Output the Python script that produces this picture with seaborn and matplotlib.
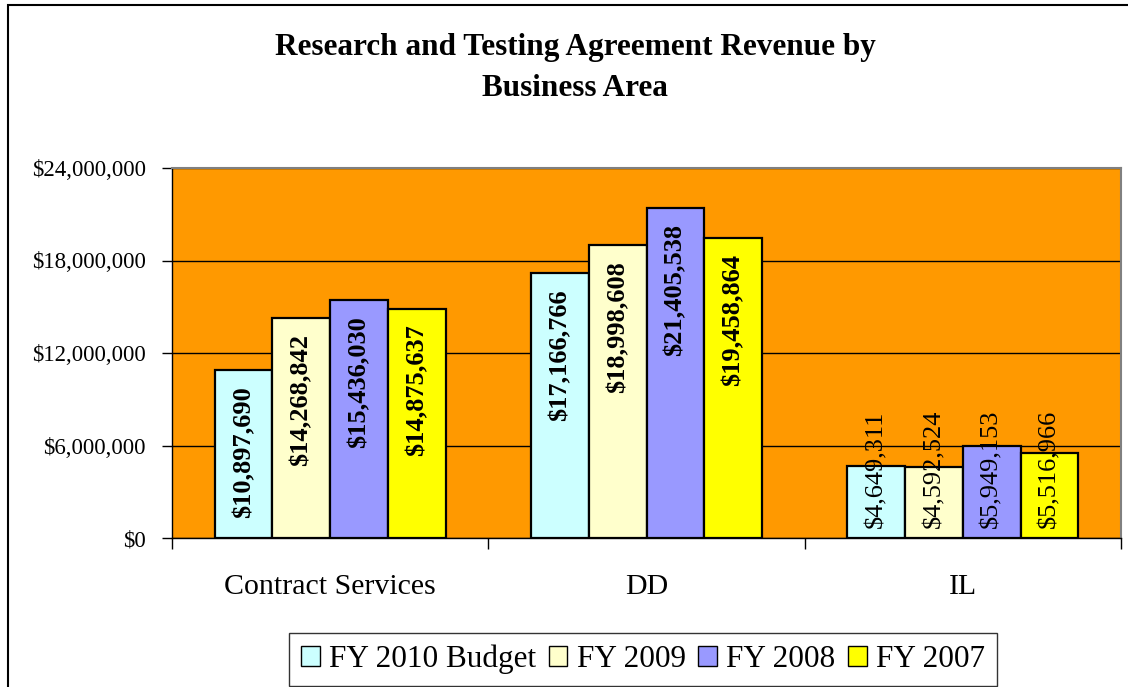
import matplotlib
matplotlib.use("Agg")
import matplotlib.pyplot as plt
import matplotlib.ticker as mticker
from matplotlib.patches import Rectangle
import seaborn as sns
import pandas as pd

areas = ["Contract Services", "DD", "IL"]
years = ["FY 2010 Budget", "FY 2009", "FY 2008", "FY 2007"]
fy2010_budget = [10897690, 17166766, 4649311]
fy2009 = [14268842, 18998608, 4592524]
fy2008 = [15436030, 21405538, 5949153]
fy2007 = [14875637, 19458864, 5516966]
colors = ["#CCFFFF", "#FFFFCC", "#9999FF", "#FFFF00"]
y_ticks = [0, 6000000, 12000000, 18000000, 24000000]
title_lines = ["Research and Testing Agreement Revenue by", "Business Area"]

series = [fy2010_budget, fy2009, fy2008, fy2007]
rows = []
for yr, vals in zip(years, series):
    for a, v in zip(areas, vals):
        rows.append({"area": a, "year": yr, "revenue": v})
df = pd.DataFrame(rows)

sns.set_theme(style="white")
plt.rcParams["font.family"] = ["Liberation Serif", "DejaVu Serif"]
plt.rcParams["text.color"] = "black"
plt.rcParams["axes.labelcolor"] = "black"
plt.rcParams["xtick.color"] = "black"
plt.rcParams["ytick.color"] = "black"

W, H = 1128, 687
fig = plt.figure(figsize=(W / 100, H / 100), dpi=100)
ax = fig.add_axes([172 / W, 1 - 538 / H, (1121 - 172) / W, (538 - 168) / H])
ax.set_facecolor("#FF9900")
ax.set_axisbelow(True)

sns.barplot(data=df, x="area", y="revenue", hue="year", order=areas,
            hue_order=years, palette=colors, width=0.73, edgecolor="black",
            linewidth=1.6, saturation=1, ax=ax, legend=True, errorbar=None)

ax.set_ylim(0, 24000000)
ax.set_xlim(-0.5, 2.5)
ax.set_yticks(y_ticks)
ax.yaxis.set_major_formatter(mticker.FuncFormatter(lambda v, p: f"${v:,.0f}"))
ax.tick_params(axis="y", labelsize=16.5, length=7, width=1, direction="out",
               color="black", left=True, pad=12)
ax.set_xticks([0, 1, 2])
ax.set_xticklabels(areas, fontsize=21.5)
ax.tick_params(axis="x", which="major", length=0, pad=26)
ax.set_xticks([-0.5, 0.5, 1.5, 2.5], minor=True)
ax.tick_params(axis="x", which="minor", length=8, width=1, direction="out",
               color="black", bottom=True)
ax.set_xlabel("")
ax.set_ylabel("")
ax.yaxis.grid(True, color="black", linewidth=1)
ax.xaxis.grid(False)
for s in ["top", "right"]:
    ax.spines[s].set_color("#808080")
    ax.spines[s].set_linewidth(1.5)
for s in ["left", "bottom"]:
    ax.spines[s].set_color("black")
    ax.spines[s].set_linewidth(1)

px_per_unit = 370 / 24000000
for cont in ax.containers:
    for bar in cont:
        h = bar.get_height()
        x = bar.get_x() + bar.get_width() / 2
        label = f"${h:,.0f}"
        if h * px_per_unit > 160:
            ax.annotate(label, xy=(x, h), xytext=(0, -11.5), textcoords="offset points",
                        rotation=90, ha="center", va="top", fontsize=19,
                        fontweight="bold", color="black")
        else:
            ax.annotate(label, xy=(x, 0), xytext=(0, 7.5), textcoords="offset points",
                        rotation=90, ha="center", va="bottom", fontsize=19,
                        fontweight="normal", color="black")

ax.get_legend().remove()
handles = [Rectangle((0, 0), 1, 1, facecolor=c, edgecolor="black", linewidth=1) for c in colors]
leg = fig.legend(handles, years, loc="center", bbox_to_anchor=(643 / W, 1 - 659.5 / H),
                 ncol=4, fontsize=22.5, frameon=True, fancybox=False, edgecolor="black",
                 handlelength=0.6, handleheight=0.6, handletextpad=0.3,
                 columnspacing=0.4, borderpad=0.38)
leg.get_frame().set_linewidth(1)

fig.text(575 / W, 1 - 48 / H, title_lines[0], ha="center", va="center",
         fontsize=22.5, fontweight="bold")
fig.text(575 / W, 1 - 88 / H, title_lines[1], ha="center", va="center",
         fontsize=22.5, fontweight="bold")

fig.patches.append(Rectangle((8 / W, -0.05), 1.2, 1 - 5 / H + 0.05, transform=fig.transFigure,
                             fill=False, edgecolor="black", linewidth=1.5, clip_on=False))

fig.savefig("out.png", dpi=100)
